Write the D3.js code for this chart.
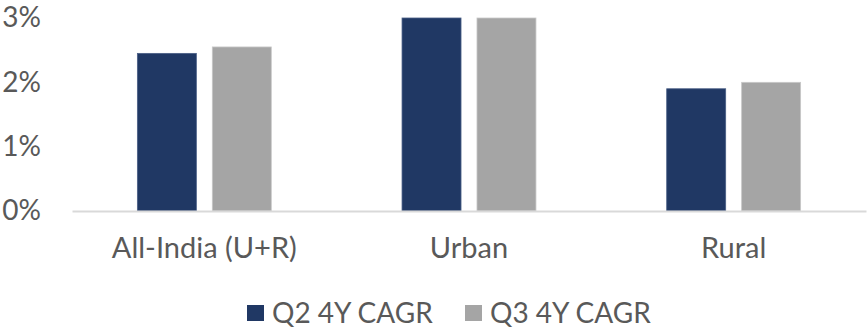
<!DOCTYPE html>
<html>
<head>
<meta charset="utf-8">
<script src="https://cdn.jsdelivr.net/npm/d3@7"></script>
<style>
  body { margin: 0; background: #fff; }
  text { font-family: Lato, sans-serif; fill: #595959; }
</style>
</head>
<body>
<div id="chart"></div>
<script>
var categories = ["All-India (U+R)", "Urban", "Rural"];
var seriesNames = ["Q2 4Y CAGR", "Q3 4Y CAGR"];
var q2Values = [2.45, 3.0, 1.9];
var q3Values = [2.55, 3.0, 2.0];
var yTicks = [0, 1, 2, 3];
var colors = ["#203864", "#a5a5a5"];

var width = 868, height = 332;
var margin = { top: 18, right: 2, bottom: 121, left: 72 };

var svg = d3.select('#chart').append('svg')
            .attr('width', width)
            .attr('height', height);

var rows = categories.map(function(c, i){
  return { cat: c, vals: [q2Values[i], q3Values[i]] };
});

var x0 = d3.scaleBand().domain(categories)
           .range([margin.left, width - margin.right])
           .paddingInner(0.494).paddingOuter(0.247);
var x1 = d3.scaleBand().domain(seriesNames)
           .range([0, x0.bandwidth()])
           .paddingInner(0.213);
var y = d3.scaleLinear().domain([0, 3]).range([height - margin.bottom, margin.top]);

// y axis labels only
var yAxis = d3.axisLeft(y).tickValues(yTicks)
              .tickFormat(function(d){ return d + '%'; })
              .tickSize(0).tickPadding(31);
var gy = svg.append('g')
   .attr('transform', 'translate(' + margin.left + ',0)')
   .call(yAxis);
gy.select('.domain').remove();
gy.selectAll('text').style('font-size', '28px').attr('fill', '#595959');

// bars
var groups = svg.selectAll('.grp').data(rows).enter().append('g')
   .attr('transform', function(d){ return 'translate(' + x0(d.cat) + ',0)'; });
groups.selectAll('rect').data(function(d){ return d.vals; }).enter().append('rect')
   .attr('x', function(d, i){ return x1(seriesNames[i]); })
   .attr('y', function(d){ return y(d); })
   .attr('width', x1.bandwidth())
   .attr('height', function(d){ return y(0) - y(d); })
   .attr('fill', function(d, i){ return colors[i]; })
   .attr('stroke', function(d, i){ return i == 0 ? '#4a5f86' : '#c8c8c8'; })
   .attr('stroke-width', 0.8);

// x axis
var xAxis = d3.axisBottom(x0).tickSize(0).tickPadding(26);
var gx = svg.append('g')
   .attr('transform', 'translate(0,' + y(0) + ')')
   .call(xAxis);
gx.select('.domain').attr('stroke', '#d9d9d9').attr('stroke-width', 2);
gx.selectAll('text').style('font-size', '29px').attr('fill', '#595959');

// legend
var legendX = [247, 465];
var legend = svg.selectAll('.leg').data(seriesNames).enter().append('g')
   .attr('transform', function(d, i){ return 'translate(' + legendX[i] + ',305)'; });
legend.append('rect').attr('width', 17).attr('height', 16)
   .attr('fill', function(d, i){ return colors[i]; });
legend.append('text').attr('x', 25).attr('y', 18)
   .style('font-size', '28px').text(function(d){ return d; });
</script>
</body>
</html>
